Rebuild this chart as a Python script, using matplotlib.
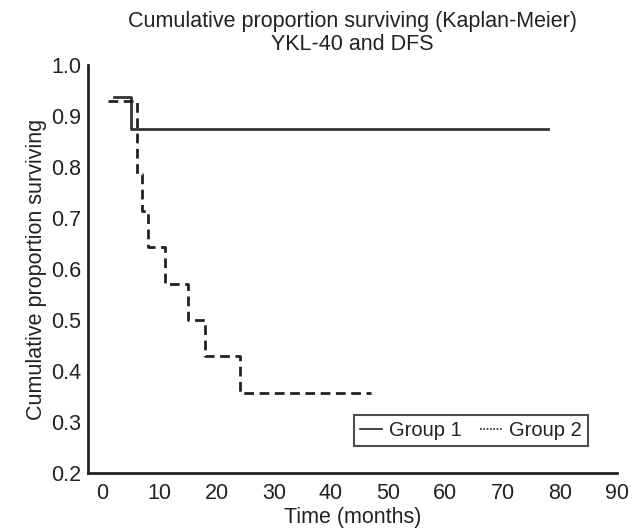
import matplotlib
matplotlib.use("Agg")
import matplotlib.pyplot as plt
from matplotlib.lines import Line2D

plt.rcParams['font.family'] = ['Liberation Sans', 'DejaVu Sans']

# Group 1 (solid) step curve
g1_time = [2, 5, 78]
g1_surv = [0.9375, 0.875, 0.875]

# Group 2 (dashed) step curve: event times and survival after each event
g2_time = [1, 6, 7, 8, 11, 15, 18, 24, 47]
g2_surv = [0.929, 0.786, 0.714, 0.643, 0.571, 0.5, 0.429, 0.357, 0.357]

xticks = [0, 10, 20, 30, 40, 50, 60, 70, 80, 90]
yticks = [0.2, 0.3, 0.4, 0.5, 0.6, 0.7, 0.8, 0.9, 1.0]

FS = 15.5
fig = plt.figure(figsize=(6.32, 5.28), dpi=100)
ax = fig.add_axes([88/632, 1 - 473/528, (617-88)/632, (473-65)/528])

ax.step(g1_time, g1_surv, where='post', color='#333333', lw=2.0)
ax.step(g2_time, g2_surv, where='post', color='#222222', lw=2.0,
        linestyle=(0, (3.5, 2)))

ax.set_xlim(-2.5, 90)
ax.set_ylim(0.2, 1.0)
ax.set_xticks(xticks)
ax.set_xticklabels([str(x) for x in xticks])
ax.set_yticks(yticks)
ax.set_yticklabels([f"{y:.1f}" for y in yticks])
ax.tick_params(axis='x', length=0, labelsize=FS, colors='#222222', pad=7)
ax.tick_params(axis='y', length=0, labelsize=FS, colors='#222222', pad=5)
for s in ['top', 'right']:
    ax.spines[s].set_visible(False)
for s in ['left', 'bottom']:
    ax.spines[s].set_linewidth(2.0)
    ax.spines[s].set_color('#222222')

ax.set_xlabel('Time (months)', fontsize=FS, color='#222222', labelpad=2)
ax.set_ylabel('Cumulative proportion surviving', fontsize=FS, color='#222222', labelpad=3)

fig.text(352/632, 1 - 22/528, 'Cumulative proportion surviving (Kaplan-Meier)',
         ha='center', va='center', fontsize=FS, color='#222222')
fig.text(352/632, 1 - 45/528, 'YKL-40 and DFS', ha='center', va='center',
         fontsize=FS, color='#222222')

handles = [Line2D([], [], color='#222222', lw=1.2),
           Line2D([], [], color='#222222', lw=1.2, linestyle=(0, (1, 1)))]
leg = ax.legend(handles, ['Group 1', 'Group 2'], ncol=2, loc='lower right',
                bbox_to_anchor=(588/632, 1 - 446/528), bbox_transform=fig.transFigure,
                frameon=True, fancybox=False, fontsize=14.5, handlelength=1.1,
                handletextpad=0.35, columnspacing=0.9, borderpad=0.3,
                borderaxespad=0, edgecolor='#222222')
leg.get_frame().set_linewidth(1.5)
for t in leg.get_texts():
    t.set_color('#222222')

fig.savefig('out.png', dpi=100)
